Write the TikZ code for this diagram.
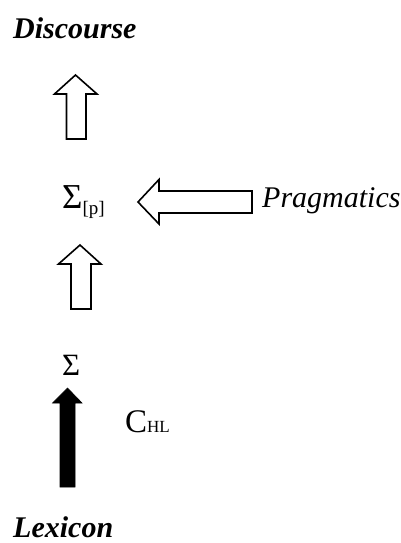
\documentclass[tikz,border=0pt]{standalone}
\usepackage{fontspec}
\setmainfont{Liberation Serif}
\usetikzlibrary{positioning}
\tikzset {
  every node/.style={inner sep=0pt, anchor=base west},
  hollow/.style={draw=black, fill=white, line width=1.6pt, line join=miter},
  solid/.style={draw=black, fill=black, line width=0.6pt},
}

\begin{document}
\begin{tikzpicture}[x=1pt,y=-1pt]
  \useasboundingbox (0,0) rectangle (401,543);
  % labels
  \node (disc) at (13,38) {\fontsize{30}{36}\selectfont\bfseries\itshape Discourse};
  \node (sigp) at (62,208) {\fontsize{35}{40}\selectfont Σ\raisebox{-6pt}{\fontsize{19}{21}\selectfont [p]}};
  \node (prag) at (262,207) {\fontsize{30}{36}\selectfont\itshape Pragmatics};
  \node (sig) at (62,375) {\fontsize{31}{36}\selectfont Σ};
  \node (chl) at (125,432) {\fontsize{33}{38}\selectfont C\fontsize{17}{20}\selectfont HL};
  \node (lex) at (13,537) {\fontsize{30}{36}\selectfont\bfseries\itshape Lexicon};
  % block arrows
  \draw[hollow] (75.5,75) -- (97,94) -- (86,94) -- (86,139) -- (66.5,139)
    -- (66.5,94) -- (54.5,94) -- cycle;
  \draw[hollow] (80,245) -- (101,264) -- (91,264) -- (91,309) -- (71,309)
    -- (71,264) -- (58.5,264) -- cycle;
  \draw[hollow] (138,202) -- (159,179.5) -- (159,191) -- (252,191) -- (252,213)
    -- (159,213) -- (159,224) -- cycle;
  \draw[solid] (67.5,388) -- (82,403) -- (75,403) -- (75,487) -- (60,487)
    -- (60,403) -- (52.5,403) -- cycle;
\end{tikzpicture}
\end{document}
